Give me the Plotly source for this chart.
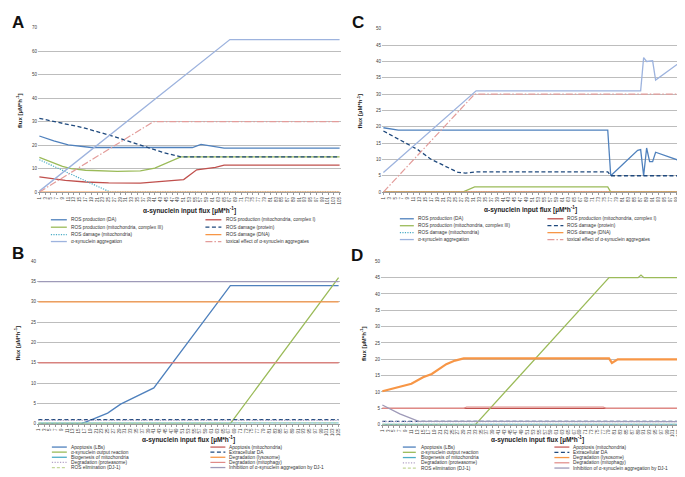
import plotly.graph_objects as go

W, H = 685, 477

# ---------------- Panel A data (breakpoints: input flux -> flux) ----------------
A_N = 105
A_da_x = [1, 6, 11, 19, 54, 57, 65, 105]
A_da_y = [23.9, 21.8, 20.1, 19.0, 19.0, 20.3, 18.7, 18.7]
A_c1_x = [1, 10, 17, 25, 36, 41, 51, 55.5, 62, 65, 105]
A_c1_y = [6.5, 5.0, 4.3, 3.9, 3.8, 4.2, 5.3, 9.5, 10.5, 11.5, 11.5]
A_c3_x = [1, 5, 9, 12, 17, 28, 36, 41, 50, 105]
A_c3_y = [14.8, 13.0, 11.0, 10.0, 9.3, 8.8, 9.0, 10.2, 15.0, 15.0]
A_prot_x = [1, 8, 16, 26, 36.5, 43.5, 50, 105]
A_prot_y = [31.4, 29.5, 27.5, 24.0, 20.0, 17.0, 15.0, 15.0]
A_mito_x = [1, 25.5, 105]
A_mito_y = [13.8, 0.0, 0.0]
A_dna_x = [1, 105]
A_dna_y = [0.0, 0.0]
A_agg_x = [1, 67, 105]
A_agg_y = [0.4, 65.0, 65.0]
A_tox_x = [1, 40.5, 105]
A_tox_y = [0.0, 30.0, 30.0]

# ---------------- Panel C data ----------------
C_N = 101
C_da_x = [1, 6, 76, 77, 86, 87, 88, 89, 90, 91, 92, 101]
C_da_y = [19.7, 19.0, 19.0, 5.0, 12.8, 13.0, 5.0, 13.5, 9.3, 9.3, 12.2, 9.3]
C_c1_x = [1, 101]
C_c1_y = [0.0, 0.0]
C_c3_x = [1, 27.5, 31.5, 76, 77, 101]
C_c3_y = [0.0, 0.0, 1.6, 1.6, 0.0, 0.0]
C_prot_x = [1, 6, 12.5, 17, 26, 28.5, 32, 76, 77, 101]
C_prot_y = [18.7, 16.3, 13.0, 10.0, 6.0, 5.8, 6.2, 6.2, 5.0, 5.0]
C_mito_x = [1, 101]
C_mito_y = [0.0, 0.0]
C_dna_x = [1, 101]
C_dna_y = [0.0, 0.0]
C_agg_x = [1, 32, 87, 88, 89, 90, 91, 92, 101]
C_agg_y = [6.0, 31.0, 31.0, 41.2, 40.0, 40.0, 40.2, 34.3, 40.3]
C_tox_x = [1, 31.5, 101]
C_tox_y = [0.0, 30.0, 30.0]

# ---------------- Panel B data ----------------
B_N = 105
B_lbs_x = [1, 16, 19.5, 25, 29.5, 33.5, 37, 41, 67.5, 105]
B_lbs_y = [0.0, 0.0, 1.0, 2.6, 4.8, 6.2, 7.3, 8.8, 34.0, 34.0]
B_apm_x = [1, 105]
B_apm_y = [15.0, 15.0]
B_out_x = [1, 67.5, 105]
B_out_y = [0.0, 0.0, 36.0]
B_eda_x = [1, 105]
B_eda_y = [1.0, 1.0]
B_bio_x = [1, 105]
B_bio_y = [0.1, 0.1]
B_lys_x = [1, 105]
B_lys_y = [30.0, 30.0]
B_pro_x = [1, 105]
B_pro_y = [0.8, 0.8]
B_mph_x = [1, 105]
B_mph_y = [15.0, 15.0]
B_ros_x = [1, 105]
B_ros_y = [0.1, 0.1]
B_inh_x = [1, 105]
B_inh_y = [35.0, 35.0]

# ---------------- Panel D data ----------------
D_N = 105
D_lbs_x = [1, 105]
D_lbs_y = [0.0, 0.0]
D_apm_x = [1, 105]
D_apm_y = [5.0, 5.0]
D_out_x = [1, 33, 79, 89, 90, 91, 105]
D_out_y = [0.0, 0.0, 45.0, 45.0, 45.8, 45.0, 45.0]
D_eda_x = [1, 105]
D_eda_y = [1.0, 1.0]
D_bio_x = [1, 105]
D_bio_y = [0.1, 0.1]
D_lys_x = [1, 6, 11, 15, 18, 23, 26, 29, 79, 80, 82, 105]
D_lys_y = [10.2, 11.3, 12.5, 14.5, 15.5, 18.5, 19.6, 20.3, 20.3, 18.9, 20.0, 20.0]
D_pro_x = [1, 105]
D_pro_y = [0.9, 0.9]
D_mph_x = [1, 29, 30, 77, 78, 105]
D_mph_y = [5.0, 5.0, 5.4, 5.4, 5.0, 5.0]
D_ros_x = [1, 105]
D_ros_y = [0.1, 0.1]
D_inh_x = [1, 7, 13.5, 105]
D_inh_y = [6.0, 3.3, 1.0, 0.9]

ROS_NAMES = ["ROS production (DA)", "ROS production (mitochondria, complex I)",
             "ROS production (mitochondria, complex III)", "ROS damage (protein)",
             "ROS damage (mitochondria)", "ROS damage (DNA)",
             "α-synuclein aggregation", "toxical effect of α-synuclein aggregates"]
ROS_STYLE = [("#4F81BD", "solid", 1.3), ("#C0504D", "solid", 1.3), ("#9BBB59", "solid", 1.3),
             ("#1F497D", "4px,2.5px", 1.3), ("#4BACC6", "1.2px,1.3px", 1.2), ("#F79646", "solid", 1.3),
             ("#9DB3DE", "solid", 1.3), ("#E39C9A", "7px,2px,1.5px,2px", 1.2)]

DEG_NAMES = ["Apoptosis (LBs)", "Apoptosis (mitochondria)", "α-synuclein output reaction",
             "Extracellular DA", "Biogenesis of mitochondria", "Degradation (lysosome)",
             "Degradation (proteasome)", "Degradation (mitophagy)", "ROS elimination (DJ-1)",
             "Inhibition of α-synuclein aggregation by DJ-1"]
DEG_STYLE = [("#4F81BD", "solid", 1.3), ("#C0504D", "solid", 1.2), ("#9BBB59", "solid", 1.3),
             ("#1F497D", "4px,2.5px", 1.3), ("#4BACC6", "solid", 1.3), ("#F79646", "solid", 1.3),
             ("#B3A2C7", "1.2px,1.5px", 1.2), ("#E08A86", "solid", 1.2), ("#C3D69B", "3px,2px", 1.2),
             ("#9E9AB8", "solid", 1.3)]

panels = [
    dict(letter="A", xa="x", ya="y", N=A_N, ymax=70, dt=10,
         dom_x=(29, 333), dom_y=(18, 184),
         series=[(A_da_x, A_da_y), (A_c1_x, A_c1_y), (A_c3_x, A_c3_y), (A_prot_x, A_prot_y),
                 (A_mito_x, A_mito_y), (A_dna_x, A_dna_y), (A_agg_x, A_agg_y), (A_tox_x, A_tox_y)],
         names=ROS_NAMES, styles=ROS_STYLE,
         letter_pos=(1, 1), ytitle_x=10, xtitle=(181, 203),
         leg_rows=[212, 219.5, 227, 234], leg_cols=[(42, 58, 60), (197, 213, 216)]),
    dict(letter="B", xa="x2", ya="y2", N=B_N, ymax=40, dt=5,
         dom_x=(28, 332), dom_y=(254, 418),
         series=[(B_lbs_x, B_lbs_y), (B_apm_x, B_apm_y), (B_out_x, B_out_y), (B_eda_x, B_eda_y),
                 (B_bio_x, B_bio_y), (B_lys_x, B_lys_y), (B_pro_x, B_pro_y), (B_mph_x, B_mph_y),
                 (B_ros_x, B_ros_y), (B_inh_x, B_inh_y)],
         names=DEG_NAMES, styles=DEG_STYLE,
         letter_pos=(1, 234), ytitle_x=9, xtitle=(180, 434),
         leg_rows=[441.7, 446.8, 452, 457.2, 462.4], leg_cols=[(43, 58, 60), (202, 217, 219)]),
    dict(letter="C", xa="x3", ya="y3", N=C_N, ymax=50, dt=5,
         dom_x=(374, 677), dom_y=(19, 184),
         series=[(C_da_x, C_da_y), (C_c1_x, C_c1_y), (C_c3_x, C_c3_y), (C_prot_x, C_prot_y),
                 (C_mito_x, C_mito_y), (C_dna_x, C_dna_y), (C_agg_x, C_agg_y), (C_tox_x, C_tox_y)],
         names=ROS_NAMES, styles=ROS_STYLE,
         letter_pos=(342, 1), ytitle_x=352, xtitle=(523, 202),
         leg_rows=[211, 218, 225, 232], leg_cols=[(392, 406, 408), (540, 556, 558)]),
    dict(letter="D", xa="x4", ya="y4", N=D_N, ymax=50, dt=5,
         dom_x=(373, 679), dom_y=(254, 419),
         series=[(D_lbs_x, D_lbs_y), (D_apm_x, D_apm_y), (D_out_x, D_out_y), (D_eda_x, D_eda_y),
                 (D_bio_x, D_bio_y), (D_lys_x, D_lys_y), (D_pro_x, D_pro_y), (D_mph_x, D_mph_y),
                 (D_ros_x, D_ros_y), (D_inh_x, D_inh_y)],
         names=DEG_NAMES, styles=DEG_STYLE,
         letter_pos=(341, 236), ytitle_x=355, xtitle=(530, 434),
         leg_rows=[441.7, 447, 452.3, 457.6, 462.9], leg_cols=[(395, 408, 411), (547, 562, 564)]),
]


def fx(p):
    return p / W


def fy(p):
    return 1 - p / H


fig = go.Figure()
shapes, annotations = [], []
FONT = "Liberation Sans, Arial, sans-serif"
XTITLE = "α-synuclein input flux [µM*h<sup>-1</sup>]"
YTITLE = "flux [µM*h<sup>-1</sup>]"

for p in panels:
    for (xs, ys), name, (col, dash, wd) in zip(p["series"], p["names"], p["styles"]):
        if p["letter"] == "D" and name == "Degradation (lysosome)":
            wd = 2.2
        fig.add_trace(go.Scatter(x=xs, y=ys, mode="lines", name=name, xaxis=p["xa"], yaxis=p["ya"],
                                 line=dict(color=col, dash=dash, width=wd), showlegend=False,
                                 hoverinfo="skip"))
    xk = "xaxis" + p["xa"][1:]
    yk = "yaxis" + p["ya"][1:]
    ticks = list(range(1, p["N"] + 1, 2))
    fig.layout[xk] = dict(domain=[fx(p["dom_x"][0]), fx(p["dom_x"][1])], anchor=p["ya"],
                          range=[0.5, p["N"] + 0.5], tickmode="array", tickvals=ticks,
                          ticktext=[str(t) for t in ticks], tickangle=-90,
                          tickfont=dict(size=4.5, color="#404040", family=FONT),
                          showgrid=False, zeroline=False, showline=True, linecolor="#9a9a9a",
                          linewidth=1, ticks="outside", ticklen=2, tickcolor="#9a9a9a")
    fig.layout[yk] = dict(domain=[fy(p["dom_y"][1]), fy(p["dom_y"][0])], anchor=p["xa"],
                          range=[0, p["ymax"]], dtick=p["dt"], tick0=0,
                          tickfont=dict(size=4.5, color="#404040", family=FONT),
                          showgrid=True, gridcolor="#bdbdbd", gridwidth=1, zeroline=False,
                          showline=False, ticks="")
    annotations.append(dict(text="<b>%s</b>" % p["letter"], x=fx(p["letter_pos"][0]),
                            y=fy(p["letter_pos"][1]), xref="paper", yref="paper",
                            xanchor="left", yanchor="top", showarrow=False,
                            font=dict(size=17, color="#111", family="Liberation Sans, Arial")))
    annotations.append(dict(text="<b>%s</b>" % YTITLE, x=fx(p["ytitle_x"]),
                            y=(fy(p["dom_y"][0]) + fy(p["dom_y"][1])) / 2,
                            xref="paper", yref="paper", textangle=-90, showarrow=False,
                            xanchor="center", yanchor="middle",
                            font=dict(size=6, color="#222", family=FONT)))
    annotations.append(dict(text="<b>%s</b>" % XTITLE, x=fx(p["xtitle"][0]), y=fy(p["xtitle"][1]),
                            xref="paper", yref="paper", showarrow=False,
                            xanchor="center", yanchor="middle",
                            font=dict(size=6.5, color="#222", family=FONT)))
    for k, (name, (col, dash, wd)) in enumerate(zip(p["names"], p["styles"])):
        r, c = k // 2, k % 2
        yy = p["leg_rows"][r]
        x0, x1, xt = p["leg_cols"][c]
        shapes.append(dict(type="line", xref="paper", yref="paper", x0=fx(x0), x1=fx(x1),
                           y0=fy(yy), y1=fy(yy), line=dict(color=col, dash=dash, width=wd)))
        annotations.append(dict(text=name, x=fx(xt), y=fy(yy), xref="paper", yref="paper",
                                xanchor="left", yanchor="middle", showarrow=False,
                                font=dict(size=4.8, color="#333", family=FONT)))

fig.update_layout(width=W, height=H, margin=dict(l=0, r=0, t=0, b=0),
                  paper_bgcolor="white", plot_bgcolor="white", showlegend=False,
                  shapes=shapes, annotations=annotations)
fig.write_html("out.html")
